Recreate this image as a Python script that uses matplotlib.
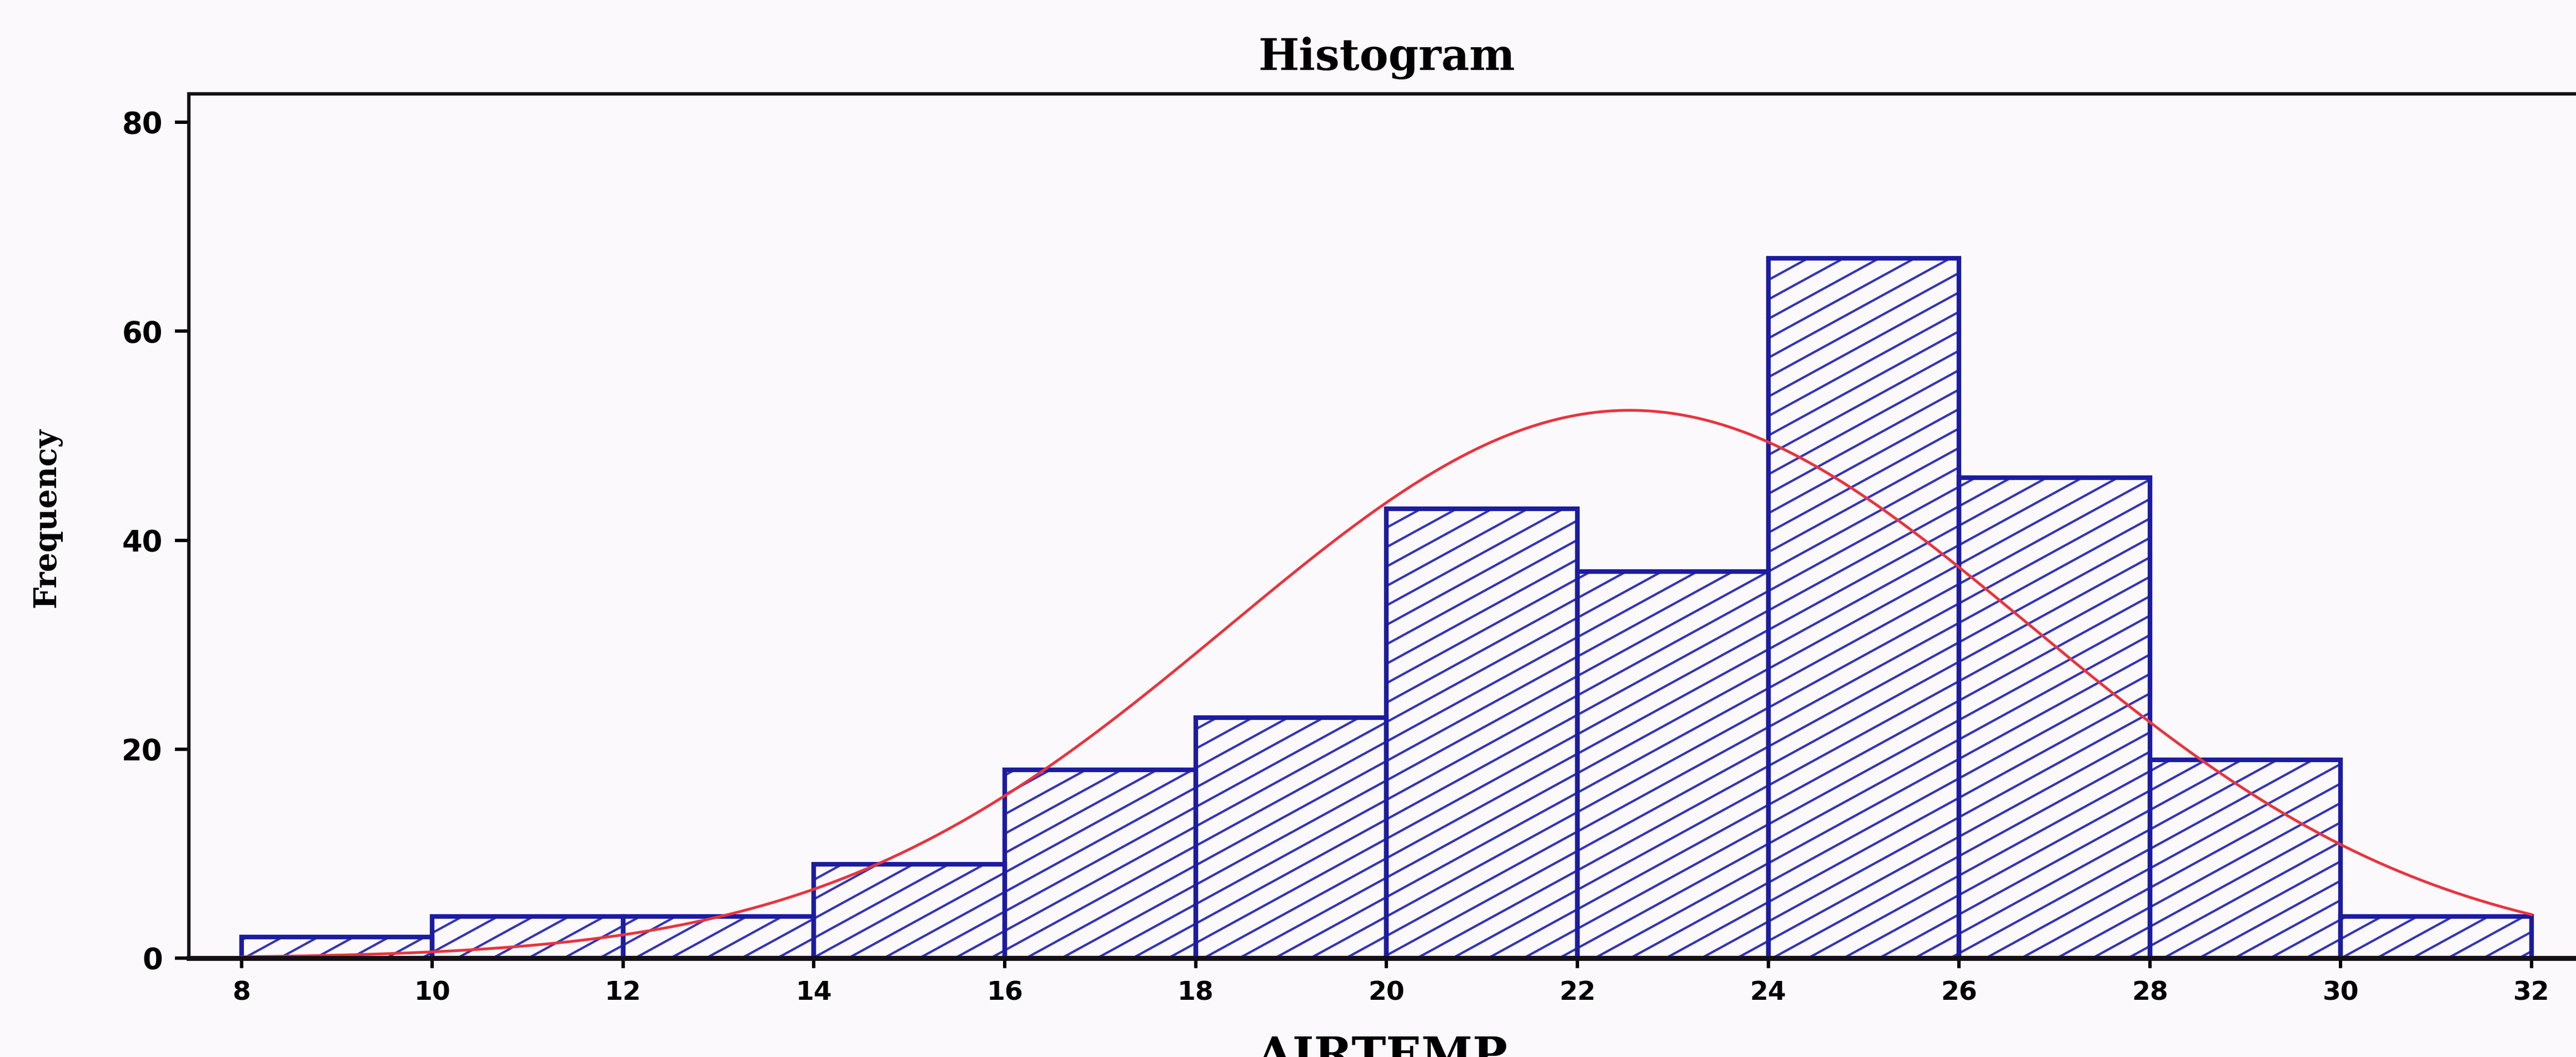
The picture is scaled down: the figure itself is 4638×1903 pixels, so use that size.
#!/usr/bin/env python3
"""
Histogram of AIRTEMP with a fitted normal curve (SPSS style output)
"""
import numpy as np
import matplotlib
matplotlib.use("Agg")
import matplotlib.pyplot as plt
from matplotlib.collections import LineCollection

# Bin edges and counts (N = 276)
bin_edges = [8, 10, 12, 14, 16, 18, 20, 22, 24, 26, 28, 30, 32]
counts = [2, 4, 4, 9, 18, 23, 43, 37, 67, 46, 19, 4]

# Normal fit drawn over the bars
fit_mean = 22.55
fit_sd = 4.2

x_ticks = [8, 10, 12, 14, 16, 18, 20, 22, 24, 26, 28, 30, 32]
y_ticks = [0, 20, 40, 60, 80]

BG = "#fbf9fc"
BAR_BLUE = "#1c1ca0"
HATCH_BLUE = "#3434b8"
CURVE_RED = "#e8343e"
AXIS_BLACK = "#151015"


def normal_curve(xs, n, width, mean, sd):
    # expected frequency per bin for a normal distribution
    return n * width / (sd * np.sqrt(2 * np.pi)) * np.exp(-0.5 * ((xs - mean) / sd) ** 2)


def hatch_bars(ax, bars, step_px=64, rise_px=35):
    # the scan has flat (~30 deg) hatching, so draw it by hand:
    # parallel lines clipped to each bar
    x0, x1 = ax.get_xlim()
    y0, y1 = ax.get_ylim()
    px_per_x = ax.bbox.width / (x1 - x0)
    px_per_y = ax.bbox.height / (y1 - y0)
    slope = (rise_px / step_px) * px_per_x / px_per_y
    step = step_px / px_per_x
    run = (y1 - y0) / slope
    starts = np.arange(x0 - run, x1 + step, step)
    segs = [[(c, y0), (c + run, y1)] for c in starts]
    for bar in bars:
        lc = LineCollection(segs, colors=HATCH_BLUE, linewidths=1.5, zorder=2)
        ax.add_collection(lc)
        lc.set_clip_path(bar)


def main():
    fig = plt.figure(figsize=(23.19, 9.515), dpi=200, facecolor=BG)
    ax = fig.add_axes([0.0733, 0.0935, 0.9267, 0.8175], facecolor=BG)

    lefts = bin_edges[:-1]
    widths = np.diff(bin_edges)
    bars = ax.bar(lefts, counts, width=widths, align="edge", fill=False,
                  edgecolor=BAR_BLUE, linewidth=3.0, zorder=3)

    n = sum(counts)
    xs = np.linspace(bin_edges[0], bin_edges[-1], 400)
    ax.plot(xs, normal_curve(xs, n, widths[0], fit_mean, fit_sd),
            color=CURVE_RED, linewidth=1.8, zorder=4)

    ax.set_xlim(7.449, 32.466)
    ax.set_ylim(0, 82.7)
    hatch_bars(ax, bars)

    ax.set_xticks(x_ticks)
    ax.set_yticks(y_ticks)
    ax.set_xticklabels([str(t) for t in x_ticks], family="DejaVu Sans",
                       weight="bold", size=17)
    ax.set_yticklabels([str(t) for t in y_ticks], family="DejaVu Sans",
                       weight="bold", size=19)
    ax.tick_params(axis="x", direction="out", length=6.5, width=2.2,
                   color="black", pad=8)
    ax.tick_params(axis="y", direction="out", length=9, width=2.2,
                   color="black", pad=8)

    for side in ["left", "top"]:
        ax.spines[side].set_linewidth(2.2)
        ax.spines[side].set_color(AXIS_BLACK)
    ax.spines["bottom"].set_linewidth(3.2)
    ax.spines["bottom"].set_color(AXIS_BLACK)
    ax.spines["bottom"].set_zorder(5)
    ax.spines["right"].set_visible(False)

    # titles sit where the scan put them (x label is cut by the page edge)
    fig.text(0.5384, 0.9338, "Histogram", family="DejaVu Serif",
             weight="bold", size=28, ha="center", va="baseline")
    fig.text(0.5365, -0.012, "AIRTEMP", family="DejaVu Serif",
             weight="bold", size=30, ha="center", va="baseline")
    fig.text(0.018, 0.51, "Frequency", family="DejaVu Serif",
             weight="bold", size=20, rotation=90, ha="center", va="center")

    fig.savefig("out.png", dpi=200, facecolor=BG)


if __name__ == "__main__":
    main()
